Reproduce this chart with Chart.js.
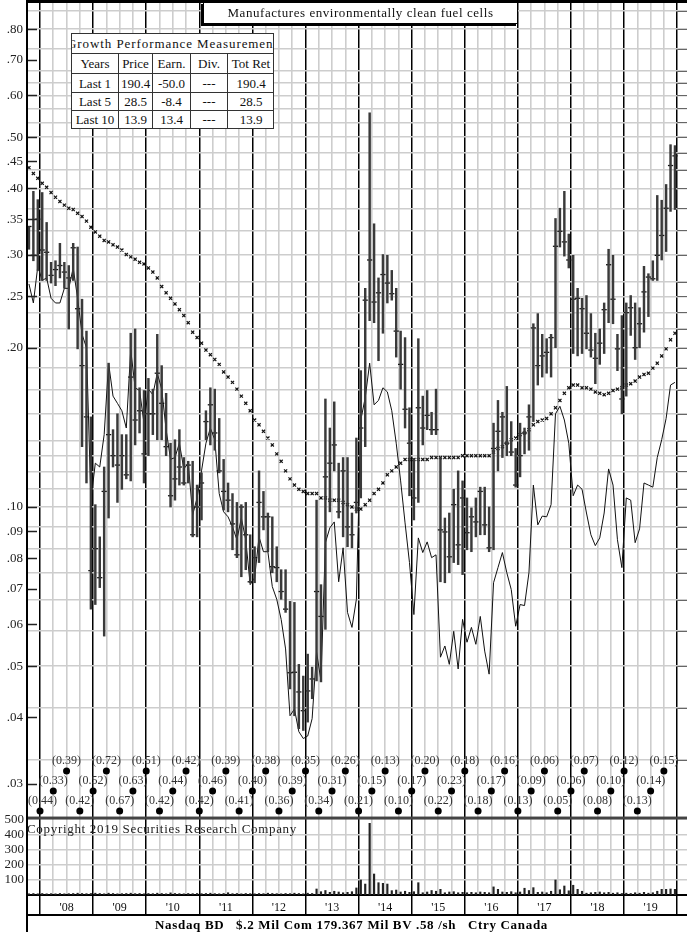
<!DOCTYPE html>
<html>
<head>
<meta charset="utf-8">
<title>Fuel cell maker – long-term price chart</title>
<script src="https://cdn.jsdelivr.net/npm/chart.js@4.4.1/dist/chart.umd.min.js"></script>
<style>
  html, body { margin:0; padding:0; background:#fff; }
  #wrap { position:relative; width:687px; height:932px; overflow:hidden; font-family:"Liberation Serif","Times New Roman",serif; color:#111; }
  #c { position:absolute; left:0; top:0; }
  .ov { position:absolute; white-space:nowrap; }
  #title { left:203px; top:2px; width:313px; height:20px; border:1px solid #000; box-shadow:-2px 2px 0 #000; background:#fff; font-size:13px; line-height:20px; display:flex; justify-content:center; overflow:hidden; }
  #gpm { left:71px; top:33px; width:201px; height:94px; border:1px solid #333; background:#fff; overflow:hidden; }
  #gpm .head { height:19px; line-height:19px; font-size:13px; display:flex; justify-content:center; overflow:hidden; }
  #gpm table { border-collapse:collapse; table-layout:fixed; width:203px; margin-left:-1px; font-size:13px; }
  #gpm td { border:1px solid #333; padding:0; line-height:17px; text-align:center; overflow:hidden; white-space:nowrap; }
  #gpm tr:last-child td { border-bottom:none; }
  #copy { left:27px; top:821px; font-size:13px; line-height:16px; color:#222; }
  #foot { left:155px; top:917px; font-size:13px; line-height:16px; font-weight:bold; color:#000; }
</style>
</head>
<body>
<div id="wrap">
  <canvas id="c" width="687" height="932"></canvas>
  <div id="title" class="ov"><span id="titleText">Manufactures environmentally clean fuel cells</span></div>
  <div id="gpm" class="ov">
    <div class="head"><span id="gpmTitle">Growth Performance Measurement</span></div>
    <table>
      <colgroup><col style="width:47px"><col style="width:34px"><col style="width:38px"><col style="width:37px"><col style="width:47px"></colgroup>
      <tr style="height:20px"><td>Years</td><td>Price</td><td>Earn.</td><td>Div.</td><td>Tot Ret</td></tr>
      <tr style="height:19px"><td>Last 1</td><td>190.4</td><td>-50.0</td><td>---</td><td>190.4</td></tr>
      <tr style="height:18px"><td>Last 5</td><td>28.5</td><td>-8.4</td><td>---</td><td>28.5</td></tr>
      <tr style="height:18px"><td>Last 10</td><td>13.9</td><td>13.4</td><td>---</td><td>13.9</td></tr>
    </table>
  </div>
  <div id="copy" class="ov">Copyright 2019 Securities Research Company</div>
  <div id="foot" class="ov">Nasdaq BD&nbsp;&nbsp; $.2 Mil Com 179.367 Mil BV .58 /sh&nbsp;&nbsp; Ctry Canada</div>
</div>
<script>
// ---------------- data (monthly, Oct 2007 .. Dec 2019) ----------------
const START_YEAR = 2007, START_MONTH = 9;   // October 2007 (0-based month)

const priceHigh = [
  .339,.395,.381,
  .393,.345,.290,.292,.315,.290,.286,.315,.310,.247,.215,.148,
  .101,.0878,.119,.187,.140,.150,.137,.137,.213,.217,.168,.166,
  .175,.167,.212,.185,.164,.132,.134,.140,.124,.122,.122,.110,
  .116,.152,.168,.167,.147,.123,.111,.106,.102,.101,.102,.0886,
  .0841,.117,.107,.0974,.0958,.0841,.0761,.0761,.0663,.0660,.0504,.0479,
  .0527,.0498,.103,.0713,.160,.141,.158,.121,.124,.124,.0974,.135,
  .181,.259,.556,.343,.271,.300,.299,.280,.259,.215,.209,.154,
  .123,.208,.162,.166,.151,.167,.124,.0953,.0974,.108,.117,.112,
  .104,.0996,.104,.109,.109,.100,.144,.159,.151,.169,.145,.129,
  .144,.141,.156,.222,.232,.212,.208,.212,.351,.367,.395,.328,
  .299,.259,.248,.251,.232,.213,.217,.243,.307,.299,.212,.230,
  .243,.251,.243,.238,.285,.276,.292,.388,.380,.407,.484,.482
];
const priceLow = [
  .307,.292,.280,
  .268,.268,.265,.262,.271,.259,.217,.268,.199,.130,.111,.0641,
  .0654,.0704,.0570,.0953,.119,.102,.108,.113,.112,.131,.138,.111,
  .125,.137,.134,.134,.125,.100,.103,.110,.110,.111,.0878,.0878,
  .0945,.134,.131,.128,.116,.0987,.0979,.0830,.0802,.0738,.0761,.0719,
  .0719,.0785,.0905,.0823,.0751,.0722,.0669,.0632,.0453,.0403,.0381,.0378,
  .0392,.0434,.0469,.0467,.0587,.0979,.117,.0953,.0878,.0841,.0837,.0974,
  .104,.130,.225,.223,.189,.213,.243,.246,.192,.167,.141,.105,
  .0945,.102,.131,.140,.137,.137,.0722,.0719,.0751,.0785,.0778,.0745,
  .0830,.0823,.0878,.0886,.0886,.0823,.0830,.117,.124,.125,.125,.109,
  .114,.126,.128,.145,.170,.176,.179,.176,.200,.310,.298,.283,
  .195,.193,.195,.199,.192,.171,.186,.195,.223,.222,.181,.150,
  .162,.211,.190,.200,.214,.229,.268,.268,.293,.304,.362,.365
];
const priceClose = [
  .339,.299,.350,
  .306,.303,.274,.281,.286,.278,.271,.309,.237,.185,.148,.0758,
  .0834,.0735,.107,.137,.125,.120,.125,.115,.176,.146,.152,.126,
  .150,.150,.179,.157,.130,.105,.113,.119,.111,.120,.0886,.100,
  .111,.145,.156,.138,.117,.107,.103,.0929,.0812,.100,.0886,.0722,
  .0802,.102,.0958,.0958,.0771,.0768,.0692,.0641,.0486,.0487,.0447,.0412,
  .0449,.0473,.0692,.0621,.114,.121,.131,.0979,.117,.0917,.0886,.102,
  .141,.246,.293,.244,.254,.275,.265,.253,.215,.186,.153,.132,
  .104,.154,.141,.149,.140,.140,.0905,.0897,.0805,.101,.0848,.104,
  .0894,.0958,.0937,.107,.0925,.0837,.129,.139,.148,.132,.127,.110,
  .125,.138,.148,.218,.185,.193,.196,.209,.311,.332,.317,.293,
  .247,.248,.237,.213,.198,.191,.204,.236,.287,.247,.199,.160,
  .233,.238,.200,.222,.255,.272,.270,.299,.326,.367,.442,.461
];
// smooth "x" trend line
const trendLine = [
  .438,.427,.418,
  .409,.402,.393,.385,.378,.372,.367,.365,.359,.354,.347,.338,
  .331,.325,.319,.317,.313,.310,.306,.300,.297,.294,.290,.288,
  .283,.278,.271,.261,.254,.248,.242,.236,.230,.223,.214,.209,
  .204,.198,.194,.190,.186,.180,.176,.172,.167,.162,.157,.152,
  .146,.143,.139,.135,.131,.126,.122,.117,.113,.110,.108,.107,
  .106,.106,.106,.104,.104,.103,.103,.103,.102,.101,.100,.0991,
  .0991,.101,.103,.106,.108,.111,.115,.117,.119,.121,.123,.123,
  .123,.123,.123,.123,.124,.124,.124,.124,.124,.124,.124,.125,
  .125,.125,.125,.125,.125,.125,.127,.129,.130,.132,.134,.135,
  .137,.138,.140,.143,.145,.146,.147,.150,.154,.159,.164,.168,
  .170,.170,.168,.168,.167,.165,.164,.163,.164,.166,.167,.168,
  .170,.171,.173,.176,.178,.179,.183,.187,.193,.199,.207,.213
];
// relative strength line
const relStrength = [
  .264,.243,.285,
  .268,.271,.248,.243,.243,.259,.259,.283,.248,.212,.200,.103,
  .121,.119,.137,.187,.162,.157,.152,.141,.198,.168,.166,.144,
  .167,.163,.179,.167,.140,.123,.124,.132,.118,.121,.0966,.104,
  .117,.132,.141,.134,.106,.0979,.0958,.0917,.0867,.0953,.0867,.0713,
  .0735,.0878,.0823,.0823,.0707,.0669,.0613,.0539,.0403,.0415,.0376,.0365,
  .0369,.0398,.0532,.0469,.0856,.0913,.0937,.0722,.0837,.0632,.0592,.0669,
  .146,.161,.187,.156,.159,.168,.165,.152,.132,.112,.0933,.0785,
  .0626,.0874,.0820,.0859,.0802,.0812,.0520,.0546,.0504,.0582,.0494,.0613,
  .0555,.0592,.0550,.0621,.0534,.0483,.0719,.0768,.0820,.0751,.0698,.0595,
  .0654,.0651,.0751,.110,.0925,.0961,.0958,.101,.150,.155,.146,.132,
  .105,.110,.108,.0974,.0886,.0845,.0874,.0974,.118,.110,.0867,.0768,
  .104,.103,.0856,.0909,.111,.110,.109,.124,.134,.147,.170,.172
];
// monthly volume (approx.)
const volume = [
  8,10,8,
  10,8,9,8,10,8,9,10,12,10,9,10,
  12,10,8,12,10,8,9,10,12,9,10,8,
  10,9,12,10,8,14,10,9,8,10,9,10,
  9,10,12,9,8,10,15,9,10,8,10,9,
  8,10,9,12,10,9,8,10,9,12,10,8,
  12,10,40,22,30,18,25,20,15,18,22,47,
  100,73,478,140,82,78,73,29,33,20,25,18,
  22,82,15,20,30,25,38,15,20,22,15,18,
  15,18,15,20,18,15,54,38,20,18,22,15,
  20,45,30,49,18,20,15,25,100,35,60,28,
  65,38,25,12,15,18,20,15,18,12,15,10,
  12,10,15,12,18,12,15,25,38,38,40,38
];
// quarterly earnings per share (losses), first quarter mark at start of 2008
const EPS_FIRST = 2008;
const eps = [
  -0.44,-0.33,-0.39,-0.42,-0.52,-0.72,-0.67,-0.63,-0.51,-0.42,-0.44,-0.42,
  -0.42,-0.46,-0.39,-0.41,-0.40,-0.38,-0.36,-0.39,-0.35,-0.34,-0.31,-0.26,
  -0.21,-0.15,-0.13,-0.10,-0.17,-0.20,-0.22,-0.23,-0.18,-0.18,-0.17,-0.16,
  -0.13,-0.09,-0.06,-0.05,-0.06,-0.07,-0.08,-0.10,-0.12,-0.13,-0.14,-0.15
];
const yearLabels = ["'08","'09","'10","'11","'12","'13","'14","'15","'16","'17","'18","'19"];
const FIRST_LABEL_YEAR = 2008;
const priceTickLabels = [0.03,0.04,0.05,0.06,0.07,0.08,0.09,0.10,0.20,0.25,0.30,0.35,0.40,0.45,0.50,0.60,0.70,0.80];
const priceGridValues = [0.0333,0.0417,0.05,0.0583,0.0667,0.075,0.0833,0.0917,0.1,0.1083,0.1167,0.125,0.1333,0.15,0.1667,0.1833,0.2,0.2167,0.2333,0.25,0.2667,0.3,0.3333,0.3667,0.4,0.4333,0.4667,0.5,0.5333,0.5667,0.6,0.6333,0.6667,0.7333,0.8,0.8667];
const volumeTickLabels = [100,200,300,400,500];
const volumeGridValues = [100,200,300,400];

// ---------------- layout constants ----------------
const X_MIN = 2007.755, X_MAX = 2020.185;
const P_MIN = 0.01847, P_MAX = 0.9085;
const V_MAX = 5967, VOL_PANEL_TOP = 513;
const ROW_MAX = 44.75, ROW_BASE = 4.2;
const FONT = '"Liberation Serif","Times New Roman",serif';

const monthTime = i => START_YEAR + (START_MONTH + i + 0.5) / 12;
const inList = (v, list) => list.some(w => Math.abs(v - w) / w < 1e-4);

const barData = priceHigh.map((h, i) => ({ x: monthTime(i), y: [priceLow[i], h] }));
const closeData = priceClose.map((c, i) => ({ x: monthTime(i), y: c }));
const trendData = trendLine.map((v, i) => ({ x: monthTime(i), y: v }));
const rsData = relStrength.map((v, i) => ({ x: monthTime(i), y: v }));
const volData = volume.map((v, i) => ({ x: monthTime(i), y: v }));
const epsData = eps.map((v, k) => ({ x: EPS_FIRST + k * 0.25, y: ROW_BASE + (k % 3) }));

const quarterTicks = [];
for (let q = 0; q <= 48; q++) quarterTicks.push(2008 + q * 0.25);
const priceTicks = Array.from(new Set(priceGridValues.concat(priceTickLabels))).sort((a, b) => a - b);

Chart.defaults.font.family = FONT;
Chart.defaults.color = '#222';

const EPS_DS = 5;
const noPad = s => { s.paddingTop = 0; s.paddingBottom = 0; s.paddingLeft = 0; s.paddingRight = 0; };

const framePlugin = {
  id: 'frame',
  afterDraw(chart) {
    const { ctx, chartArea: ca, scales } = chart;
    const y = scales.y, yv = scales.yVol, x = scales.x;
    ctx.save();
    // short marks on the right edge
    ctx.strokeStyle = '#666'; ctx.lineWidth = 1;
    const xr = x.getPixelForValue(2020);
    priceGridValues.forEach(v => {
      const py = Math.round(y.getPixelForValue(v)) + 0.5;
      ctx.beginPath(); ctx.moveTo(xr, py); ctx.lineTo(ca.right, py); ctx.stroke();
    });
    // label tick marks inside the left edge
    ctx.strokeStyle = '#222'; ctx.lineWidth = 1.5;
    priceTickLabels.forEach(v => {
      const py = Math.round(y.getPixelForValue(v)) + 0.5;
      ctx.beginPath(); ctx.moveTo(ca.left, py); ctx.lineTo(ca.left + 10, py); ctx.stroke();
    });
    // price / volume divider
    const divY = yv.getPixelForValue(VOL_PANEL_TOP);
    ctx.fillStyle = '#444';
    ctx.fillRect(ca.left, divY - 1.5, ca.right - ca.left, 3);
    // rule under the year labels
    ctx.fillStyle = '#000';
    ctx.fillRect(ca.left, x.top + 19, ca.right - ca.left, 2);
    // top border and left axis
    ctx.fillRect(ca.left, 0, ca.right - ca.left, 3);
    ctx.fillRect(ca.left - 1, 0, 2, chart.height);
    // volume scale labels
    ctx.fillStyle = '#222';
    ctx.font = '13px ' + FONT;
    ctx.textAlign = 'right'; ctx.textBaseline = 'middle';
    volumeTickLabels.forEach(v => ctx.fillText(String(v), ca.left - 3, yv.getPixelForValue(v)));
    // earnings labels above the quarter dots
    const meta = chart.getDatasetMeta(EPS_DS);
    ctx.font = '12px ' + FONT;
    ctx.textAlign = 'center'; ctx.fillStyle = '#333';
    meta.data.forEach((pt, k) => {
      const t = '(' + Math.abs(eps[k]).toFixed(2) + ')';
      const w = ctx.measureText(t).width;
      const cx = Math.max(pt.x, ca.left + 1 + w / 2);
      ctx.fillText(t, cx, pt.y - 10);
    });
    ctx.restore();
  }
};

new Chart(document.getElementById('c'), {
  type: 'scatter',
  data: {
    datasets: [
      { type: 'bar', label: 'High-Low', data: barData, yAxisID: 'y', backgroundColor: '#3a3a3a', barThickness: 1.8, grouped: false, borderWidth: 0 },
      { type: 'scatter', label: 'Close', data: closeData, yAxisID: 'y', pointStyle: 'line', pointRadius: 2.6, borderColor: '#111', borderWidth: 1.3 },
      { type: 'scatter', label: 'Trend', data: trendData, yAxisID: 'y', pointStyle: 'crossRot', pointRadius: 2.2, borderColor: '#111', borderWidth: 1.2 },
      { type: 'line', label: 'Relative strength', data: rsData, yAxisID: 'y', borderColor: '#111', borderWidth: 1, pointRadius: 0, tension: 0 },
      { type: 'bar', label: 'Volume', data: volData, yAxisID: 'yVol', backgroundColor: '#222', barThickness: 1.5, grouped: false, borderWidth: 0 },
      { type: 'scatter', label: 'EPS', data: epsData, yAxisID: 'yRow', pointStyle: 'circle', pointRadius: 3.5, backgroundColor: '#000', borderColor: '#000', borderWidth: 0 }
    ]
  },
  options: {
    responsive: false,
    devicePixelRatio: 1,
    animation: false,
    events: [],
    layout: { padding: 0, autoPadding: false },
    plugins: { legend: { display: false }, tooltip: { enabled: false } },
    scales: {
      x: {
        type: 'linear', position: 'bottom', min: X_MIN, max: X_MAX, bounds: 'data', offset: false,
        afterBuildTicks: s => { s.ticks = quarterTicks.map(v => ({ value: v })); },
        afterFit: s => { s.height = 37; noPad(s); },
        ticks: {
          autoSkip: false, maxRotation: 0, minRotation: 0, padding: -14,
          font: { size: 12 }, color: '#111',
          callback: v => {
            if (Math.abs(v - Math.floor(v) - 0.5) < 1e-6) return yearLabels[Math.floor(v) - FIRST_LABEL_YEAR] || '';
            return '';
          }
        },
        grid: {
          offset: false,
          color: c => (c.tick && Number.isInteger(c.tick.value)) ? '#000' : '#cdcdcd',
          lineWidth: c => (c.tick && Number.isInteger(c.tick.value)) ? 1.5 : 1.6,
          drawTicks: true, tickLength: 20,
          tickColor: c => (c.tick && Number.isInteger(c.tick.value)) ? '#000' : 'rgba(0,0,0,0)',
          tickWidth: 1.5
        },
        border: { display: true, color: '#000', width: 2 }
      },
      y: {
        type: 'logarithmic', position: 'left', min: P_MIN, max: P_MAX, bounds: 'data',
        afterBuildTicks: s => { s.ticks = priceTicks.map(v => ({ value: v })); },
        afterFit: s => { s.width = 27; noPad(s); },
        ticks: {
          autoSkip: false, padding: 4, font: { size: 13 }, color: '#222',
          callback: v => inList(v, priceTickLabels) ? '.' + String(Math.round(v * 100)).padStart(2, '0') : ''
        },
        grid: {
          color: c => (c.tick && inList(c.tick.value, priceGridValues)) ? '#cdcdcd' : 'rgba(0,0,0,0)',
          lineWidth: 1.6, drawTicks: false
        },
        border: { display: false }
      },
      yVol: {
        type: 'linear', position: 'left', min: 0, max: V_MAX, bounds: 'data',
        afterBuildTicks: s => { s.ticks = volumeGridValues.map(v => ({ value: v })); },
        afterFit: s => { s.width = 0; noPad(s); },
        ticks: { display: false },
        grid: { color: '#cdcdcd', lineWidth: 1.6, drawTicks: false },
        border: { display: false }
      },
      yRow: { type: 'linear', display: false, min: 0, max: ROW_MAX, afterFit: noPad }
    }
  },
  plugins: [framePlugin]
});

// stretch overlay texts to the widths seen in the original
function fitWidth(el, target) {
  el.style.letterSpacing = '0px';
  const w = el.getBoundingClientRect().width;
  const n = el.textContent.length;
  el.style.letterSpacing = ((target - w) / n).toFixed(3) + 'px';
}
fitWidth(document.getElementById('titleText'), 266);
fitWidth(document.getElementById('gpmTitle'), 211);
fitWidth(document.getElementById('copy'), 270);
fitWidth(document.getElementById('foot'), 393);
</script>
</body>
</html>
